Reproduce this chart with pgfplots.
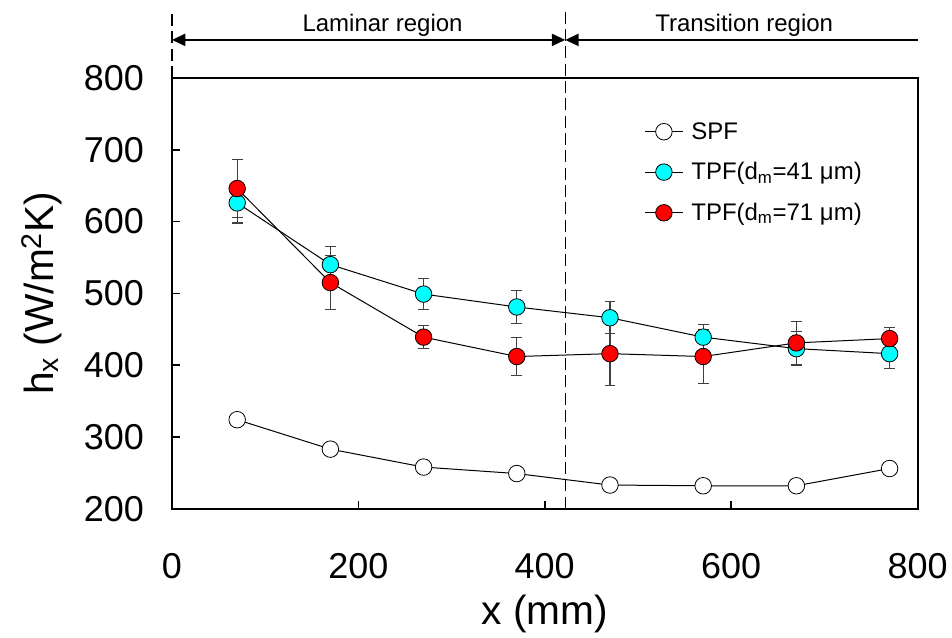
\documentclass[border=0pt]{standalone}
\usepackage{pgfplots}
\pgfplotsset{compat=1.18}
\usepackage{fontspec}
\setmainfont{Liberation Sans}
\usetikzlibrary{arrows.meta}
\definecolor{cyanm}{RGB}{0,255,255}
\definecolor{redm}{RGB}{255,0,0}
\begin{document}
\begin{tikzpicture}
\begin{axis}[
  scale only axis, width=559.5pt, height=323.25pt,
  xmin=0, xmax=800, ymin=200, ymax=800,
  xtick={0,200,...,800}, ytick={200,300,...,800},
  tick align=inside, xtick pos=left, ytick pos=left,
  major tick length=6pt,
  tick style={line width=1.2pt, black},
  axis line style={line width=1.5pt},
  /pgf/number format/assume math mode=true,
  ticklabel style={font=\fontsize{27}{30}\selectfont},
  xticklabel style={yshift=-30pt},
  yticklabel style={xshift=-17.5pt},
  label style={font=\fontsize{30.5}{34}\selectfont},
  xlabel={x (mm)},
  ylabel={h\textsubscript{x} (W/m\textsuperscript{2}K)},
  xlabel style={at={(axis description cs:0.5,-0.244)}, anchor=center},
  ylabel style={at={(axis description cs:-0.175,0.5)}, anchor=center},
  clip=false,
  legend style={draw=none, fill=none, at={(rel axis cs:0.628,0.91)}, anchor=north west,
    font=\fontsize{18}{21}\selectfont, row sep=12pt, column sep=4pt},
  legend cell align=left,
  legend image code/.code={\draw[mark repeat=2,mark phase=2] plot coordinates {(0cm,0cm) (0.5cm,0cm) (1cm,0cm)};},
  error bars/error bar style={line width=0.8pt, black!75},
  error bars/error mark options={rotate=90, mark size=4pt, line width=0.8pt, black!75},
]
\addplot[black, line width=0.75pt, mark=*, mark size=6.2pt, mark options={fill=white, draw=black, line width=0.6pt}]
 coordinates {(70,324) (170,283) (270,258) (370,249) (470,233) (570,232) (670,232) (770,256)};
\addlegendentry{SPF}
\addplot[black, line width=0.75pt, mark=*, mark size=6.2pt, mark options={fill=cyanm, draw=black, line width=0.6pt},
  error bars/.cd, y dir=both, y explicit]
 coordinates {(70,626) +- (0,28) (170,540) +- (0,25) (270,499) +- (0,22) (370,481) +- (0,23)
   (470,466) +- (0,22) (570,439) +- (0,18) (670,423) +- (0,24) (770,416) +- (0,21)};
\addlegendentry{TPF(d\textsubscript{m}=41 μm)}
\addplot[black, line width=0.75pt, mark=*, mark size=6.2pt, mark options={fill=redm, draw=black, line width=0.6pt},
  error bars/.cd, y dir=both, y explicit]
 coordinates {(70,646) +- (0,40) (170,515) +- (0,38) (270,439) +- (0,16) (370,412) +- (0,26)
   (470,416) +- (0,44) (570,412) +- (0,38) (670,431) +- (0,30) (770,437) +- (0,16)};
\addlegendentry{TPF(d\textsubscript{m}=71 μm)}
\draw[line width=1.1pt, dash pattern=on 9pt off 4pt] (axis cs:422,200) -- (axis cs:422,892);
\draw[line width=1.1pt, dash pattern=on 9pt off 4pt] (axis cs:0,800) -- (axis cs:0,892);
\draw[line width=1.5pt, {Triangle[length=10pt,width=9pt]}-{Triangle[length=10pt,width=9pt]}]
  (axis cs:0,853) -- (axis cs:422,853);
\draw[line width=1.5pt, {Triangle[length=10pt,width=9pt]}-]
  (axis cs:422,853) -- (axis cs:800,853);
\node[font=\fontsize{18}{21}\selectfont] at (axis cs:226,874) {Laminar region};
\node[font=\fontsize{18}{21}\selectfont] at (axis cs:614,874) {Transition region};
\path (rel axis cs:-0.2306,-0.2854) (rel axis cs:1.0456,1.181);
\end{axis}
\end{tikzpicture}
\end{document}
